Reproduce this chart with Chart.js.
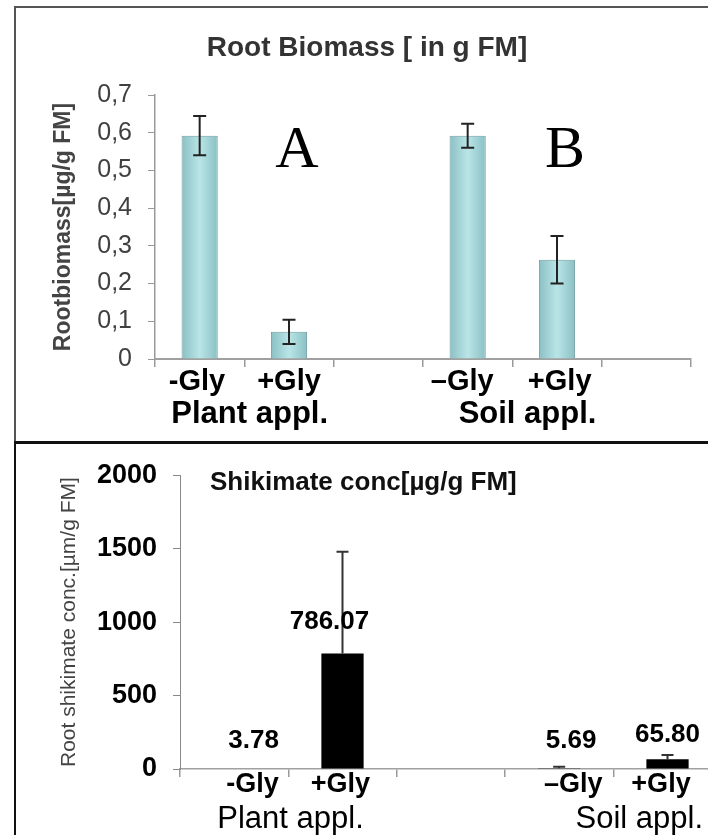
<!DOCTYPE html>
<html><head><meta charset="utf-8">
<script src="https://cdn.jsdelivr.net/npm/chart.js@4.4.1/dist/chart.umd.min.js"></script>
<style>
html,body{margin:0;padding:0;background:#fff;width:708px;height:835px;overflow:hidden;position:relative;}
#c1{position:absolute;left:0;top:0;}
#c2{position:absolute;left:0;top:443px;}
.b{position:absolute;}
</style></head><body>
<canvas id="c1" width="708" height="443"></canvas>
<canvas id="c2" width="860" height="392"></canvas>
<div class="b" style="left:14px;top:6px;width:694px;height:2px;background:#555"></div>
<div class="b" style="left:14px;top:6px;width:2px;height:437px;background:#555"></div>
<div class="b" style="left:14px;top:441px;width:694px;height:3px;background:#111"></div>
<div class="b" style="left:14px;top:441px;width:2px;height:394px;background:#111"></div>
<script>
// ---------- data ----------
const categories = ['-Gly', '+Gly', '', '–Gly', '+Gly', ''];
const groupLabels = ['Plant appl.', 'Soil appl.'];

const biomassValues = [0.592, 0.072, null, 0.592, 0.263, null];
const biomassErrors = [0.052, 0.032, null, 0.032, 0.063, null];
const biomassTickLabels = ['0', '0,1', '0,2', '0,3', '0,4', '0,5', '0,6', '0,7'];

const shikimateValues = [3.78, 786.07, null, 5.69, 65.80, null];
const shikimateErrors = [null, 692, null, 10, 29, null];
const shikimateValueLabels = ['3.78', '786.07', '', '5.69', '65.80', ''];
const shikimateTickLabels = ['0', '500', '1000', '1500', '2000'];

const FONT = "'Liberation Sans', Arial, sans-serif";
Chart.defaults.font.family = FONT;

// ---------- plugins ----------
const errorBars = {
  id: 'errorBars',
  afterDatasetsDraw(chart, args, opts) {
    const ys = chart.scales.y, meta = chart.getDatasetMeta(0), ctx = chart.ctx;
    ctx.save();
    ctx.strokeStyle = opts.color; ctx.lineWidth = opts.width;
    opts.errors.forEach((e, i) => {
      const v = chart.data.datasets[0].data[i];
      if (v == null || e == null) return;
      const x = meta.data[i].x;
      const yt = ys.getPixelForValue(v + e);
      const yb = opts.plusOnly ? ys.getPixelForValue(v) : ys.getPixelForValue(v - e);
      const h = opts.cap / 2;
      ctx.beginPath();
      ctx.moveTo(x, yt); ctx.lineTo(x, yb);
      ctx.moveTo(x - h, yt); ctx.lineTo(x + h, yt);
      if (!opts.plusOnly) { ctx.moveTo(x - h, yb); ctx.lineTo(x + h, yb); }
      ctx.stroke();
    });
    ctx.restore();
  }
};

const annot = {
  id: 'annot',
  afterDraw(chart, args, opts) {
    const ctx = chart.ctx, xs = chart.scales.x, ys = chart.scales.y;
    const cw = xs.getPixelForValue(1) - xs.getPixelForValue(0);
    ctx.save();
    ctx.textBaseline = 'alphabetic';
    for (const it of opts.items) {
      if (!it.text) continue;
      ctx.font = it.font; ctx.fillStyle = it.color || '#000'; ctx.textAlign = it.align || 'center';
      const x = it.cat !== undefined ? xs.getPixelForValue(it.cat) + (it.dx || 0) * cw : it.x;
      const y = it.value !== undefined ? ys.getPixelForValue(it.value)
              : (it.below !== undefined ? ys.bottom + it.below : it.y);
      ctx.fillText(it.text, x, y);
    }
    ctx.restore();
  }
};

// ---------- top chart ----------
const topXdx = [-0.03, 0, 0, -0.06, 0.03, 0];
const topItems = [
  { text: 'Root Biomass [ in g FM]', x: 367, y: 56, font: 'bold 28px ' + FONT, color: '#333' },
  { text: 'A', cat: 1, dx: 0.09, value: 0.51, font: "60px 'Liberation Serif', 'Times New Roman', serif" },
  { text: 'B', cat: 4, dx: 0.09, value: 0.51, font: "60px 'Liberation Serif', 'Times New Roman', serif" },
  { text: groupLabels[0], cat: 0, dx: 0.56, below: 64, font: 'bold 31px ' + FONT },
  { text: groupLabels[1], cat: 3, dx: 0.67, below: 64, font: 'bold 31px ' + FONT }
];
categories.forEach((c, i) => topItems.push({ text: c, cat: i, dx: topXdx[i], below: 31, font: 'bold 29px ' + FONT }));

function tealFill(ctx) {
  const chart = ctx.chart, xs = chart.scales && chart.scales.x;
  if (!chart.chartArea || !xs || ctx.type !== 'data') return '#a9d9dc';
  const x = xs.getPixelForValue(ctx.dataIndex), w = 18;
  const g = chart.ctx.createLinearGradient(x - w, 0, x + w, 0);
  g.addColorStop(0, '#8ac0c4');
  g.addColorStop(0.5, '#bae5e7');
  g.addColorStop(1, '#8ac0c4');
  return g;
}

new Chart(document.getElementById('c1'), {
  type: 'bar',
  data: {
    labels: categories,
    datasets: [{
      data: biomassValues,
      backgroundColor: tealFill,
      borderColor: '#729fa3',
      borderWidth: 1,
      categoryPercentage: 1,
      barPercentage: 0.405
    }]
  },
  options: {
    responsive: false, animation: false, devicePixelRatio: 1,
    layout: { padding: { top: 95, left: 0, right: 17, bottom: 0 } },
    plugins: {
      legend: { display: false }, tooltip: { enabled: false },
      errorBars: { errors: biomassErrors, color: '#222', width: 2, cap: 13, plusOnly: false },
      annot: { items: topItems }
    },
    scales: {
      x: {
        afterFit(s) { s.height = 84; },
        ticks: { display: false },
        grid: { display: true, drawOnChartArea: false, drawTicks: true, tickLength: 8, color: '#9a9a9a', lineWidth: 1.5, offset: true },
        border: { display: true, color: '#a0a0a0', width: 2 }
      },
      y: {
        min: 0, max: 0.7,
        afterFit(s) { s.width = 155; },
        ticks: { stepSize: 0.1, padding: 16, color: '#404040', font: { size: 25 },
                 callback: (v, i) => biomassTickLabels[i] },
        grid: { drawOnChartArea: false, drawTicks: true, tickLength: 7, color: '#999', lineWidth: 1 },
        border: { display: true, color: '#999', width: 1.5 },
        title: { display: true, text: 'Rootbiomass[µg/g FM]', color: '#444',
                 font: { size: 23, weight: 'bold' }, padding: { top: 50, bottom: 0 } }
      }
    }
  },
  plugins: [errorBars, annot]
});

// ---------- bottom chart ----------
const botXdx = [0.17, -0.02, 0, 0.13, -0.06, 0];
const valueLabelPos = [
  { dx: 0.18, value: 142 }, { dx: -0.12, value: 956 }, null,
  { dx: 0.11, value: 142 }, { dx: 0, value: 183 }, null
];
const botItems = [
  { text: 'Shikimate conc[µg/g FM]', x: 210, y: 47, align: 'left', font: 'bold 26px ' + FONT, color: '#111' },
  { text: groupLabels[0], cat: 0, dx: 0.52, below: 59, font: '31px ' + FONT },
  { text: groupLabels[1], cat: 3, dx: 0.74, below: 59, font: '31px ' + FONT }
];
categories.forEach((c, i) => botItems.push({ text: c, cat: i, dx: botXdx[i], below: 23, font: 'bold 27px ' + FONT }));
shikimateValueLabels.forEach((t, i) => {
  if (!t) return;
  botItems.push({ text: t, cat: i, dx: valueLabelPos[i].dx, value: valueLabelPos[i].value, font: 'bold 26px ' + FONT });
});

new Chart(document.getElementById('c2'), {
  type: 'bar',
  data: {
    labels: categories,
    datasets: [{
      data: shikimateValues,
      backgroundColor: '#000',
      borderWidth: 0,
      categoryPercentage: 1,
      barPercentage: 0.39
    }]
  },
  options: {
    responsive: false, animation: false, devicePixelRatio: 1,
    layout: { padding: { top: 31, left: 0, right: 30, bottom: 0 } },
    plugins: {
      legend: { display: false }, tooltip: { enabled: false },
      errorBars: { errors: shikimateErrors, color: '#333', width: 2, cap: 12, plusOnly: true },
      annot: { items: botItems }
    },
    scales: {
      x: {
        afterFit(s) { s.height = 66; },
        ticks: { display: false },
        grid: { display: true, drawOnChartArea: false, drawTicks: true, tickLength: 8, color: '#999', lineWidth: 1.5, offset: true },
        border: { display: true, color: '#a0a0a0', width: 1.5 }
      },
      y: {
        min: 0, max: 2000,
        afterFit(s) { s.width = 180; },
        ticks: { stepSize: 500, padding: 16, color: '#000', font: { size: 27, weight: 'bold' },
                 callback: (v, i) => shikimateTickLabels[i] },
        grid: { drawOnChartArea: false, drawTicks: true, tickLength: 7, color: '#888', lineWidth: 1 },
        border: { display: true, color: '#888', width: 1 },
        title: { display: true, text: 'Root shikimate conc.[µm/g FM]', color: '#444',
                 font: { size: 21, weight: 'normal' }, padding: { top: 57, bottom: 0 } }
      }
    }
  },
  plugins: [errorBars, annot]
});
</script>
</body></html>
